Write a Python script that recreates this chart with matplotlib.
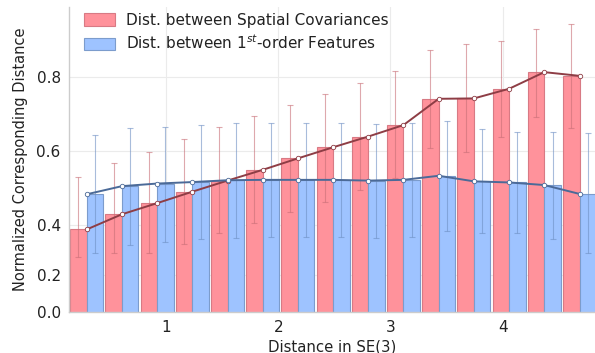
import matplotlib
matplotlib.use("Agg")
import matplotlib.pyplot as plt
import numpy as np

# pair centres along the x axis (distance in SE(3))
x_pos = [0.293, 0.607, 0.920, 1.234, 1.548, 1.861, 2.175, 2.489,
         2.802, 3.116, 3.430, 3.744, 4.057, 4.371, 4.685]

cov_mean = [0.388, 0.429, 0.459, 0.490, 0.520, 0.549, 0.580, 0.610,
            0.639, 0.670, 0.741, 0.742, 0.768, 0.813, 0.803]
cov_upper = [0.531, 0.568, 0.598, 0.632, 0.664, 0.695, 0.724, 0.754,
             0.783, 0.815, 0.873, 0.888, 0.898, 0.929, 0.942]
cov_lower = [0.314, 0.324, 0.324, 0.349, 0.378, 0.406, 0.434, 0.463,
             0.495, 0.527, 0.607, 0.598, 0.639, 0.693, 0.661]

feat_mean = [0.483, 0.505, 0.512, 0.516, 0.521, 0.522, 0.522, 0.522,
             0.520, 0.522, 0.533, 0.518, 0.515, 0.508, 0.484]
feat_upper = [0.643, 0.663, 0.666, 0.670, 0.675, 0.675, 0.675, 0.675,
              0.672, 0.675, 0.681, 0.659, 0.651, 0.652, 0.648]
feat_lower = [0.324, 0.346, 0.355, 0.361, 0.366, 0.368, 0.368, 0.368,
              0.366, 0.368, 0.385, 0.378, 0.379, 0.361, 0.324]

x_ticks = [1, 2, 3, 4]
y_tick_pos = [0.165, 0.265, 0.4, 0.6, 0.8]
y_tick_labels = ["0.0", "0.2", "0.4", "0.6", "0.8"]

label_cov = "Dist. between Spatial Covariances"
label_feat = r"Dist. between 1$^{st}$-order Features"

x = np.array(x_pos)
cm = np.array(cov_mean)
fm = np.array(feat_mean)
cov_err = [cm - np.array(cov_lower), np.array(cov_upper) - cm]
feat_err = [fm - np.array(feat_lower), np.array(feat_upper) - fm]

w = 0.147

fig = plt.figure(figsize=(5.95, 3.53), dpi=100)
ax = fig.add_axes([69/595, 41/353, 526/595, 305/353])

pink = "#ff929b"
blue = "#9ec3ff"
ax.bar(x - w/2, cm, width=w, color=pink, edgecolor="#d87a84", linewidth=0.8,
       label=label_cov, zorder=2)
ax.bar(x + w/2, fm, width=w, color=blue, edgecolor="#7c9ccc", linewidth=0.8,
       label=label_feat, zorder=2)

ax.errorbar(x - w/2, cm, yerr=cov_err, fmt="none", ecolor="#c96f77",
            elinewidth=0.8, capsize=2.2, capthick=0.8, alpha=0.6, zorder=3)
ax.errorbar(x + w/2, fm, yerr=feat_err, fmt="none", ecolor="#6f90c4",
            elinewidth=0.8, capsize=2.2, capthick=0.8, alpha=0.6, zorder=3)

ax.plot(x, cm, color="#8e3d45", linewidth=1.4, marker="o", markersize=3.2,
        markerfacecolor="white", markeredgecolor="#8e3d45",
        markeredgewidth=0.6, zorder=4)
ax.plot(x, fm, color="#4b6a98", linewidth=1.4, marker="o", markersize=3.2,
        markerfacecolor="white", markeredgecolor="#4b6a98",
        markeredgewidth=0.6, zorder=4)

ax.set_xlim(0.1355, 4.823)
ax.set_ylim(0.165, 0.989)
ax.set_xticks(x_ticks)
ax.set_xticklabels([str(t) for t in x_ticks])
ax.set_yticks(y_tick_pos)
ax.set_yticklabels(y_tick_labels)
ax.tick_params(axis="both", length=0, labelsize=11, colors="#222222", pad=6)

ax.grid(True, color="#ebebeb", linewidth=0.8, zorder=0)
ax.set_axisbelow(True)
for s in ["top", "right"]:
    ax.spines[s].set_visible(False)
for s in ["left", "bottom"]:
    ax.spines[s].set_color("#cccccc")
    ax.spines[s].set_linewidth(1.0)

ax.set_xlabel("Distance in SE(3)", fontsize=10.7, color="#222222", labelpad=3)
ax.set_ylabel("Normalized Corresponding Distance", fontsize=10.5,
              color="#222222", labelpad=6)

leg = ax.legend(loc="upper left", fontsize=11, frameon=False,
                handlelength=2.0, handleheight=0.9, borderaxespad=0.2,
                handletextpad=0.7, labelspacing=0.4,
                bbox_to_anchor=(0.012, 1.012))
for t in leg.get_texts():
    t.set_color("#222222")

fig.savefig("out.png", dpi=100)
